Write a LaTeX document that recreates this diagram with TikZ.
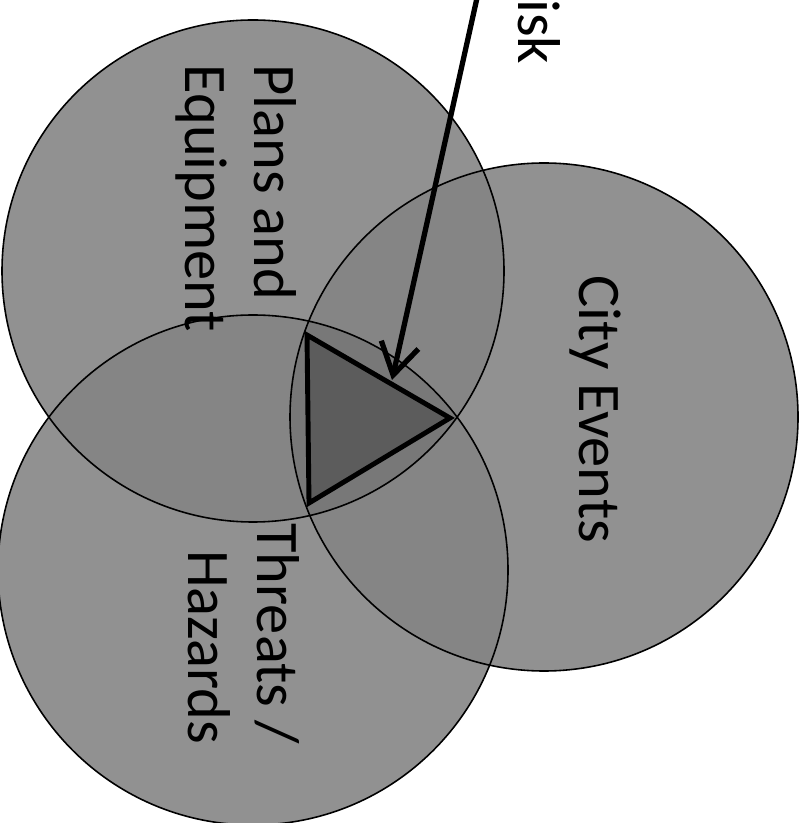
\documentclass[tikz,border=0pt]{standalone}
\usepackage{fontspec}
\setmainfont{Carlito}
\usetikzlibrary{arrows.meta, positioning}

\begin{document}
\begin{tikzpicture}[
    x=0.1mm, y=-0.1mm,
    single/.style={fill=black!43},
    lens/.style={fill=black!48},
    core/.style={fill=black!53},
    rim/.style={draw=black, line width=0.45pt},
    risktri/.style={draw=black, line width=1.4pt, fill=black!64, line join=miter},
    label/.style={rotate=-90, inner sep=0pt, font=\fontsize{17.2}{19.9}\selectfont},
    arrow/.style={-{Straight Barb[length=3.1mm, width=3.8mm]}, line width=1.5pt},
  ]
  \useasboundingbox (0,0) rectangle (802,823);
  \fill[white] (0,0) rectangle (802,823);
  \clip (0,0) rectangle (802,823);

  % Circle centres
  \coordinate (plans) at (253,271);
  \coordinate (threats) at (253,570);
  \coordinate (city) at (544,417);

  % Single areas
  \fill[single] (plans) circle[radius=251];
  \fill[single] (threats) circle[radius=255];
  \fill[single] (city) circle[radius=254];

  % Overlaps of two
  \begin{scope}
    \clip (plans) circle[radius=251];
    \fill[lens] (threats) circle[radius=255];
    \fill[lens] (city) circle[radius=254];
  \end{scope}
  \begin{scope}
    \clip (threats) circle[radius=255];
    \fill[lens] (city) circle[radius=254];
  \end{scope}

  % Overlap of all three
  \begin{scope}
    \clip (plans) circle[radius=251];
    \clip (threats) circle[radius=255];
    \fill[core] (city) circle[radius=254];
  \end{scope}

  % Outlines
  \draw[rim] (plans) circle[radius=251];
  \draw[rim] (threats) circle[radius=255];
  \draw[rim] (city) circle[radius=254];

  % Triangle
  \coordinate (tri1) at (307,335);
  \coordinate (tri2) at (309,503);
  \coordinate (tri3) at (450,418);
  \draw[risktri] (tri1) -- (tri2) -- (tri3) -- cycle;

  % Labels
  \node[label, anchor=base west, align=left] (planslbl) at (185,64) {Plans and\\Equipment};
  \node[label, anchor=base west] (citylbl) at (579,275) {City Events};
  \node[label, anchor=base east, align=right] (threatslbl) at (188,745) {Threats /\\Hazards};
  \node[label, anchor=base east] (risklbl) at (518,65) {isk};

  % Arrow
  \coordinate (riskstart) at (481,-20);
  \coordinate (risktip) at (392,380);
  \draw[arrow] (riskstart) -- (risktip);

\end{tikzpicture}
\end{document}
